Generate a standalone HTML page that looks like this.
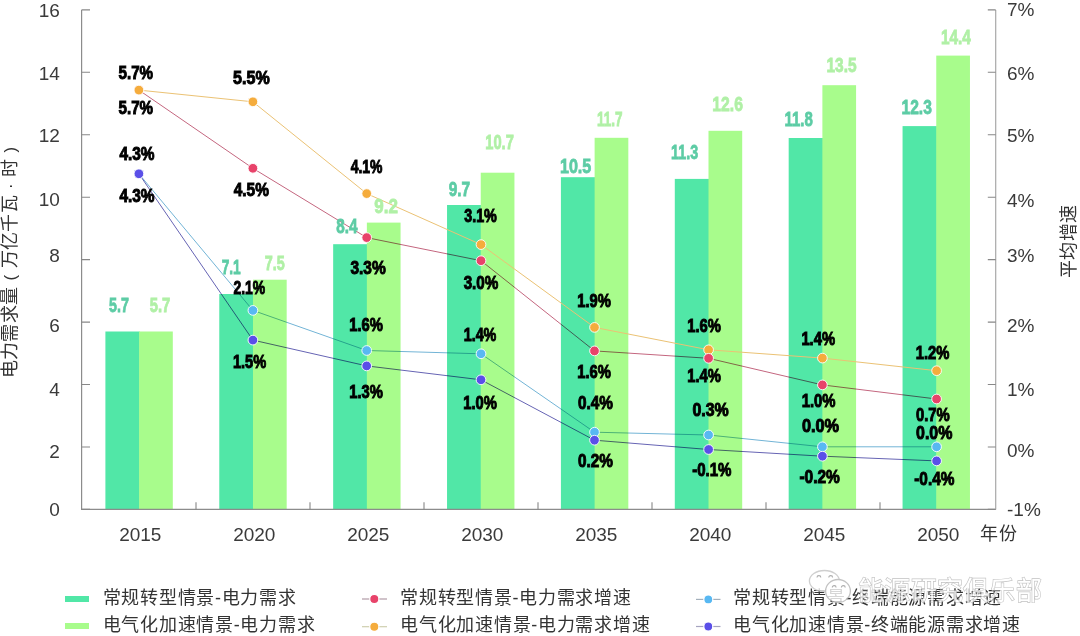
<!DOCTYPE html>
<html lang="zh-CN"><head><meta charset="utf-8">
<style>
html,body{margin:0;padding:0;background:#fff;}
body{width:1080px;height:636px;position:relative;overflow:hidden;font-family:"Liberation Sans",sans-serif;}
svg{position:absolute;left:0;top:0;}
.t{position:absolute;white-space:nowrap;color:#333;font-size:18px;line-height:19px;font-weight:300;letter-spacing:0.75px;}
</style></head><body>
<svg width="1080" height="636" viewBox="0 0 1080 636">
<rect x="105.40" y="331.5" width="34.30" height="177.9" fill="#51E7A7"/>
<rect x="139.10" y="331.5" width="33.70" height="177.9" fill="#A8FC8C"/>
<rect x="219.28" y="294.0" width="34.30" height="215.4" fill="#51E7A7"/>
<rect x="252.98" y="279.7" width="33.70" height="229.7" fill="#A8FC8C"/>
<rect x="333.16" y="244.2" width="34.30" height="265.2" fill="#51E7A7"/>
<rect x="366.86" y="222.6" width="33.70" height="286.8" fill="#A8FC8C"/>
<rect x="447.04" y="205.0" width="34.30" height="304.4" fill="#51E7A7"/>
<rect x="480.74" y="172.7" width="33.70" height="336.7" fill="#A8FC8C"/>
<rect x="560.92" y="177.2" width="34.30" height="332.2" fill="#51E7A7"/>
<rect x="594.62" y="137.8" width="33.70" height="371.6" fill="#A8FC8C"/>
<rect x="674.80" y="178.9" width="34.30" height="330.5" fill="#51E7A7"/>
<rect x="708.50" y="130.8" width="33.70" height="378.6" fill="#A8FC8C"/>
<rect x="788.68" y="138.0" width="34.30" height="371.4" fill="#51E7A7"/>
<rect x="822.38" y="85.2" width="33.70" height="424.2" fill="#A8FC8C"/>
<rect x="902.56" y="126.1" width="34.30" height="383.3" fill="#51E7A7"/>
<rect x="936.26" y="55.6" width="33.70" height="453.8" fill="#A8FC8C"/>
<path d="M81.6 9.9V509.4H995.7" fill="none" stroke="#8c8c8c" stroke-width="1.2"/>
<path d="M995.7 9.9V509.4" fill="none" stroke="#a8a8a8" stroke-width="1.2"/>
<path d="M81.5 509.4H90 M987.8 509.4H995.7 M81.5 447.0H90 M987.8 447.0H995.7 M81.5 384.5H90 M987.8 384.5H995.7 M81.5 322.1H90 M987.8 322.1H995.7 M81.5 259.6H90 M987.8 259.6H995.7 M81.5 197.2H90 M987.8 197.2H995.7 M81.5 134.8H90 M987.8 134.8H995.7 M81.5 72.3H90 M987.8 72.3H995.7 M81.5 9.9H90 M987.8 9.9H995.7 M196.0 502.3V509.4 M310.0 502.3V509.4 M424.0 502.3V509.4 M538.0 502.3V509.4 M652.0 502.3V509.4 M766.0 502.3V509.4 M880.0 502.3V509.4" fill="none" stroke="#888" stroke-width="1.1"/>
<g style="mix-blend-mode:multiply">
<polyline points="138.9,90.1 252.9,168.3 366.7,237.6 481.0,260.7 594.5,350.9 708.6,358.3 822.4,384.9 936.6,399.0" fill="none" stroke="#C4667F" stroke-width="1"/>
<polyline points="138.9,173.8 252.9,310.4 366.7,350.5 481.0,353.8 594.5,432.2 708.6,435.0 822.4,446.8 936.6,446.8" fill="none" stroke="#72B4D6" stroke-width="1"/>
<polyline points="138.9,173.8 252.9,340.1 366.7,365.9 481.0,379.8 594.5,440.2 708.6,449.5 822.4,456.2 936.6,460.9" fill="none" stroke="#6664B4" stroke-width="1"/>
</g>
<polyline points="138.9,90.1 252.9,101.8 366.7,193.6 481.0,244.6 594.5,327.4 708.6,349.8 822.4,358.1 936.6,370.7" fill="none" stroke="#EBC274" stroke-width="1"/>
<circle cx="138.9" cy="90.1" r="4.85" fill="#E8436A" stroke="#fff" stroke-width="0.9"/>
<circle cx="138.9" cy="90.1" r="4.85" fill="#F5AC3C" stroke="#fff" stroke-width="0.9"/>
<circle cx="252.9" cy="101.8" r="4.85" fill="#F5AC3C" stroke="#fff" stroke-width="0.9"/>
<circle cx="366.7" cy="193.6" r="4.85" fill="#F5AC3C" stroke="#fff" stroke-width="0.9"/>
<circle cx="481.0" cy="244.6" r="4.85" fill="#F5AC3C" stroke="#fff" stroke-width="0.9"/>
<circle cx="594.5" cy="327.4" r="4.85" fill="#F5AC3C" stroke="#fff" stroke-width="0.9"/>
<circle cx="708.6" cy="349.8" r="4.85" fill="#F5AC3C" stroke="#fff" stroke-width="0.9"/>
<circle cx="822.4" cy="358.1" r="4.85" fill="#F5AC3C" stroke="#fff" stroke-width="0.9"/>
<circle cx="936.6" cy="370.7" r="4.85" fill="#F5AC3C" stroke="#fff" stroke-width="0.9"/>
<circle cx="252.9" cy="168.3" r="4.85" fill="#E8436A" stroke="#fff" stroke-width="0.9"/>
<circle cx="366.7" cy="237.6" r="4.85" fill="#E8436A" stroke="#fff" stroke-width="0.9"/>
<circle cx="481.0" cy="260.7" r="4.85" fill="#E8436A" stroke="#fff" stroke-width="0.9"/>
<circle cx="594.5" cy="350.9" r="4.85" fill="#E8436A" stroke="#fff" stroke-width="0.9"/>
<circle cx="708.6" cy="358.3" r="4.85" fill="#E8436A" stroke="#fff" stroke-width="0.9"/>
<circle cx="822.4" cy="384.9" r="4.85" fill="#E8436A" stroke="#fff" stroke-width="0.9"/>
<circle cx="936.6" cy="399.0" r="4.85" fill="#E8436A" stroke="#fff" stroke-width="0.9"/>
<circle cx="138.9" cy="173.8" r="4.85" fill="#58B8F2" stroke="#fff" stroke-width="0.9"/>
<circle cx="252.9" cy="310.4" r="4.85" fill="#58B8F2" stroke="#fff" stroke-width="0.9"/>
<circle cx="366.7" cy="350.5" r="4.85" fill="#58B8F2" stroke="#fff" stroke-width="0.9"/>
<circle cx="481.0" cy="353.8" r="4.85" fill="#58B8F2" stroke="#fff" stroke-width="0.9"/>
<circle cx="594.5" cy="432.2" r="4.85" fill="#58B8F2" stroke="#fff" stroke-width="0.9"/>
<circle cx="708.6" cy="435.0" r="4.85" fill="#58B8F2" stroke="#fff" stroke-width="0.9"/>
<circle cx="822.4" cy="446.8" r="4.85" fill="#58B8F2" stroke="#fff" stroke-width="0.9"/>
<circle cx="936.6" cy="446.8" r="4.85" fill="#58B8F2" stroke="#fff" stroke-width="0.9"/>
<circle cx="138.9" cy="173.8" r="4.85" fill="#5A4FE8" stroke="#fff" stroke-width="0.9"/>
<circle cx="252.9" cy="340.1" r="4.85" fill="#5A4FE8" stroke="#fff" stroke-width="0.9"/>
<circle cx="366.7" cy="365.9" r="4.85" fill="#5A4FE8" stroke="#fff" stroke-width="0.9"/>
<circle cx="481.0" cy="379.8" r="4.85" fill="#5A4FE8" stroke="#fff" stroke-width="0.9"/>
<circle cx="594.5" cy="440.2" r="4.85" fill="#5A4FE8" stroke="#fff" stroke-width="0.9"/>
<circle cx="708.6" cy="449.5" r="4.85" fill="#5A4FE8" stroke="#fff" stroke-width="0.9"/>
<circle cx="822.4" cy="456.2" r="4.85" fill="#5A4FE8" stroke="#fff" stroke-width="0.9"/>
<circle cx="936.6" cy="460.9" r="4.85" fill="#5A4FE8" stroke="#fff" stroke-width="0.9"/>
<text transform="translate(135.8 79.0) scale(0.805 1)" text-anchor="middle" font-family="Liberation Sans" font-weight="bold" font-size="18.8" fill="#000" stroke="#000" stroke-width="1.0">5.7%</text>
<text transform="translate(135.8 114.2) scale(0.805 1)" text-anchor="middle" font-family="Liberation Sans" font-weight="bold" font-size="18.8" fill="#000" stroke="#000" stroke-width="1.0">5.7%</text>
<text transform="translate(137.0 160.4) scale(0.82 1)" text-anchor="middle" font-family="Liberation Sans" font-weight="bold" font-size="18.8" fill="#000" stroke="#000" stroke-width="1.0">4.3%</text>
<text transform="translate(137.0 202.0) scale(0.82 1)" text-anchor="middle" font-family="Liberation Sans" font-weight="bold" font-size="18.8" fill="#000" stroke="#000" stroke-width="1.0">4.3%</text>
<text transform="translate(251.4 84.2) scale(0.854 1)" text-anchor="middle" font-family="Liberation Sans" font-weight="bold" font-size="18.8" fill="#000" stroke="#000" stroke-width="1.0">5.5%</text>
<text transform="translate(251.3 195.6) scale(0.82 1)" text-anchor="middle" font-family="Liberation Sans" font-weight="bold" font-size="18.8" fill="#000" stroke="#000" stroke-width="1.0">4.5%</text>
<text transform="translate(249.3 294.2) scale(0.739 1)" text-anchor="middle" font-family="Liberation Sans" font-weight="bold" font-size="18.8" fill="#000" stroke="#000" stroke-width="1.0">2.1%</text>
<text transform="translate(249.5 368.2) scale(0.776 1)" text-anchor="middle" font-family="Liberation Sans" font-weight="bold" font-size="18.8" fill="#000" stroke="#000" stroke-width="1.0">1.5%</text>
<text transform="translate(366.6 173.1) scale(0.741 1)" text-anchor="middle" font-family="Liberation Sans" font-weight="bold" font-size="18.8" fill="#000" stroke="#000" stroke-width="1.0">4.1%</text>
<text transform="translate(368.1 274.1) scale(0.825 1)" text-anchor="middle" font-family="Liberation Sans" font-weight="bold" font-size="18.8" fill="#000" stroke="#000" stroke-width="1.0">3.3%</text>
<text transform="translate(366.1 331.0) scale(0.785 1)" text-anchor="middle" font-family="Liberation Sans" font-weight="bold" font-size="18.8" fill="#000" stroke="#000" stroke-width="1.0">1.6%</text>
<text transform="translate(366.1 398.1) scale(0.785 1)" text-anchor="middle" font-family="Liberation Sans" font-weight="bold" font-size="18.8" fill="#000" stroke="#000" stroke-width="1.0">1.3%</text>
<text transform="translate(480.5 222.2) scale(0.762 1)" text-anchor="middle" font-family="Liberation Sans" font-weight="bold" font-size="18.8" fill="#000" stroke="#000" stroke-width="1.0">3.1%</text>
<text transform="translate(481.0 289.1) scale(0.81 1)" text-anchor="middle" font-family="Liberation Sans" font-weight="bold" font-size="18.8" fill="#000" stroke="#000" stroke-width="1.0">3.0%</text>
<text transform="translate(480.0 340.6) scale(0.761 1)" text-anchor="middle" font-family="Liberation Sans" font-weight="bold" font-size="18.8" fill="#000" stroke="#000" stroke-width="1.0">1.4%</text>
<text transform="translate(480.0 408.8) scale(0.785 1)" text-anchor="middle" font-family="Liberation Sans" font-weight="bold" font-size="18.8" fill="#000" stroke="#000" stroke-width="1.0">1.0%</text>
<text transform="translate(594.0 307.3) scale(0.785 1)" text-anchor="middle" font-family="Liberation Sans" font-weight="bold" font-size="18.8" fill="#000" stroke="#000" stroke-width="1.0">1.9%</text>
<text transform="translate(594.0 377.5) scale(0.785 1)" text-anchor="middle" font-family="Liberation Sans" font-weight="bold" font-size="18.8" fill="#000" stroke="#000" stroke-width="1.0">1.6%</text>
<text transform="translate(595.4 409.3) scale(0.815 1)" text-anchor="middle" font-family="Liberation Sans" font-weight="bold" font-size="18.8" fill="#000" stroke="#000" stroke-width="1.0">0.4%</text>
<text transform="translate(595.4 467.4) scale(0.815 1)" text-anchor="middle" font-family="Liberation Sans" font-weight="bold" font-size="18.8" fill="#000" stroke="#000" stroke-width="1.0">0.2%</text>
<text transform="translate(704.0 332.2) scale(0.785 1)" text-anchor="middle" font-family="Liberation Sans" font-weight="bold" font-size="18.8" fill="#000" stroke="#000" stroke-width="1.0">1.6%</text>
<text transform="translate(704.0 382.3) scale(0.785 1)" text-anchor="middle" font-family="Liberation Sans" font-weight="bold" font-size="18.8" fill="#000" stroke="#000" stroke-width="1.0">1.4%</text>
<text transform="translate(710.6 416.2) scale(0.848 1)" text-anchor="middle" font-family="Liberation Sans" font-weight="bold" font-size="18.8" fill="#000" stroke="#000" stroke-width="1.0">0.3%</text>
<text transform="translate(711.8 476.1) scale(0.801 1)" text-anchor="middle" font-family="Liberation Sans" font-weight="bold" font-size="18.8" fill="#000" stroke="#000" stroke-width="1.0">-0.1%</text>
<text transform="translate(818.2 345.2) scale(0.785 1)" text-anchor="middle" font-family="Liberation Sans" font-weight="bold" font-size="18.8" fill="#000" stroke="#000" stroke-width="1.0">1.4%</text>
<text transform="translate(818.6 406.5) scale(0.79 1)" text-anchor="middle" font-family="Liberation Sans" font-weight="bold" font-size="18.8" fill="#000" stroke="#000" stroke-width="1.0">1.0%</text>
<text transform="translate(820.5 432.2) scale(0.868 1)" text-anchor="middle" font-family="Liberation Sans" font-weight="bold" font-size="18.8" fill="#000" stroke="#000" stroke-width="1.0">0.0%</text>
<text transform="translate(819.6 483.4) scale(0.824 1)" text-anchor="middle" font-family="Liberation Sans" font-weight="bold" font-size="18.8" fill="#000" stroke="#000" stroke-width="1.0">-0.2%</text>
<text transform="translate(932.5 358.7) scale(0.785 1)" text-anchor="middle" font-family="Liberation Sans" font-weight="bold" font-size="18.8" fill="#000" stroke="#000" stroke-width="1.0">1.2%</text>
<text transform="translate(932.9 421.2) scale(0.79 1)" text-anchor="middle" font-family="Liberation Sans" font-weight="bold" font-size="18.8" fill="#000" stroke="#000" stroke-width="1.0">0.7%</text>
<text transform="translate(934.2 438.8) scale(0.849 1)" text-anchor="middle" font-family="Liberation Sans" font-weight="bold" font-size="18.8" fill="#000" stroke="#000" stroke-width="1.0">0.0%</text>
<text transform="translate(934.3 485.0) scale(0.818 1)" text-anchor="middle" font-family="Liberation Sans" font-weight="bold" font-size="18.8" fill="#000" stroke="#000" stroke-width="1.0">-0.4%</text>
<text transform="translate(119.0 311.8) scale(0.699 1)" text-anchor="middle" font-family="Liberation Sans" font-weight="bold" font-size="20.5" fill="#5DCCA5" stroke="#5DCCA5" stroke-width="0.8">5.7</text>
<text transform="translate(160.0 311.8) scale(0.722 1)" text-anchor="middle" font-family="Liberation Sans" font-weight="bold" font-size="20.5" fill="#B0F0A6" stroke="#B0F0A6" stroke-width="0.8">5.7</text>
<text transform="translate(231.2 273.9) scale(0.669 1)" text-anchor="middle" font-family="Liberation Sans" font-weight="bold" font-size="20.5" fill="#5DCCA5" stroke="#5DCCA5" stroke-width="0.8">7.1</text>
<text transform="translate(274.7 269.8) scale(0.7 1)" text-anchor="middle" font-family="Liberation Sans" font-weight="bold" font-size="20.5" fill="#B0F0A6" stroke="#B0F0A6" stroke-width="0.8">7.5</text>
<text transform="translate(346.9 233.3) scale(0.746 1)" text-anchor="middle" font-family="Liberation Sans" font-weight="bold" font-size="20.5" fill="#5DCCA5" stroke="#5DCCA5" stroke-width="0.8">8.4</text>
<text transform="translate(386.1 213.1) scale(0.829 1)" text-anchor="middle" font-family="Liberation Sans" font-weight="bold" font-size="20.5" fill="#B0F0A6" stroke="#B0F0A6" stroke-width="0.8">9.2</text>
<text transform="translate(459.4 195.9) scale(0.754 1)" text-anchor="middle" font-family="Liberation Sans" font-weight="bold" font-size="20.5" fill="#5DCCA5" stroke="#5DCCA5" stroke-width="0.8">9.7</text>
<text transform="translate(499.5 149.4) scale(0.717 1)" text-anchor="middle" font-family="Liberation Sans" font-weight="bold" font-size="20.5" fill="#B0F0A6" stroke="#B0F0A6" stroke-width="0.8">10.7</text>
<text transform="translate(575.6 173.0) scale(0.787 1)" text-anchor="middle" font-family="Liberation Sans" font-weight="bold" font-size="20.5" fill="#5DCCA5" stroke="#5DCCA5" stroke-width="0.8">10.5</text>
<text transform="translate(609.7 125.8) scale(0.659 1)" text-anchor="middle" font-family="Liberation Sans" font-weight="bold" font-size="20.5" fill="#B0F0A6" stroke="#B0F0A6" stroke-width="0.8">11.7</text>
<text transform="translate(684.6 158.8) scale(0.698 1)" text-anchor="middle" font-family="Liberation Sans" font-weight="bold" font-size="20.5" fill="#5DCCA5" stroke="#5DCCA5" stroke-width="0.8">11.3</text>
<text transform="translate(727.6 110.6) scale(0.766 1)" text-anchor="middle" font-family="Liberation Sans" font-weight="bold" font-size="20.5" fill="#B0F0A6" stroke="#B0F0A6" stroke-width="0.8">12.6</text>
<text transform="translate(798.6 125.7) scale(0.732 1)" text-anchor="middle" font-family="Liberation Sans" font-weight="bold" font-size="20.5" fill="#5DCCA5" stroke="#5DCCA5" stroke-width="0.8">11.8</text>
<text transform="translate(841.5 72.2) scale(0.755 1)" text-anchor="middle" font-family="Liberation Sans" font-weight="bold" font-size="20.5" fill="#B0F0A6" stroke="#B0F0A6" stroke-width="0.8">13.5</text>
<text transform="translate(916.7 113.8) scale(0.76 1)" text-anchor="middle" font-family="Liberation Sans" font-weight="bold" font-size="20.5" fill="#5DCCA5" stroke="#5DCCA5" stroke-width="0.8">12.3</text>
<text transform="translate(955.9 43.9) scale(0.75 1)" text-anchor="middle" font-family="Liberation Sans" font-weight="bold" font-size="20.5" fill="#B0F0A6" stroke="#B0F0A6" stroke-width="0.8">14.4</text>
<text x="59.8" y="16.7" text-anchor="end" font-family="Liberation Sans" font-size="19" fill="#3a3a3a">16</text>
<text x="59.8" y="80.2" text-anchor="end" font-family="Liberation Sans" font-size="19" fill="#3a3a3a">14</text>
<text x="59.8" y="142.0" text-anchor="end" font-family="Liberation Sans" font-size="19" fill="#3a3a3a">12</text>
<text x="59.8" y="205.8" text-anchor="end" font-family="Liberation Sans" font-size="19" fill="#3a3a3a">10</text>
<text x="59.8" y="262.0" text-anchor="end" font-family="Liberation Sans" font-size="19" fill="#3a3a3a">8</text>
<text x="59.8" y="332.1" text-anchor="end" font-family="Liberation Sans" font-size="19" fill="#3a3a3a">6</text>
<text x="59.8" y="395.5" text-anchor="end" font-family="Liberation Sans" font-size="19" fill="#3a3a3a">4</text>
<text x="59.8" y="458.3" text-anchor="end" font-family="Liberation Sans" font-size="19" fill="#3a3a3a">2</text>
<text x="59.8" y="516.2" text-anchor="end" font-family="Liberation Sans" font-size="19" fill="#3a3a3a">0</text>
<text x="1007" y="16.2" font-family="Liberation Sans" font-size="19" fill="#3a3a3a">7%</text>
<text x="1007" y="79.9" font-family="Liberation Sans" font-size="19" fill="#3a3a3a">6%</text>
<text x="1007" y="142.1" font-family="Liberation Sans" font-size="19" fill="#3a3a3a">5%</text>
<text x="1007" y="206.7" font-family="Liberation Sans" font-size="19" fill="#3a3a3a">4%</text>
<text x="1007" y="262.1" font-family="Liberation Sans" font-size="19" fill="#3a3a3a">3%</text>
<text x="1007" y="332.3" font-family="Liberation Sans" font-size="19" fill="#3a3a3a">2%</text>
<text x="1007" y="395.8" font-family="Liberation Sans" font-size="19" fill="#3a3a3a">1%</text>
<text x="1007" y="457.4" font-family="Liberation Sans" font-size="19" fill="#3a3a3a">0%</text>
<text x="1007" y="516.1" font-family="Liberation Sans" font-size="19" fill="#3a3a3a">-1%</text>
<text x="140.3" y="541.1" text-anchor="middle" font-family="Liberation Sans" font-size="19" fill="#3a3a3a">2015</text>
<text x="254.3" y="541.1" text-anchor="middle" font-family="Liberation Sans" font-size="19" fill="#3a3a3a">2020</text>
<text x="368.3" y="541.1" text-anchor="middle" font-family="Liberation Sans" font-size="19" fill="#3a3a3a">2025</text>
<text x="482.3" y="541.1" text-anchor="middle" font-family="Liberation Sans" font-size="19" fill="#3a3a3a">2030</text>
<text x="596.3" y="541.1" text-anchor="middle" font-family="Liberation Sans" font-size="19" fill="#3a3a3a">2035</text>
<text x="710.3" y="541.1" text-anchor="middle" font-family="Liberation Sans" font-size="19" fill="#3a3a3a">2040</text>
<text x="824.3" y="541.1" text-anchor="middle" font-family="Liberation Sans" font-size="19" fill="#3a3a3a">2045</text>
<text x="938.3" y="541.1" text-anchor="middle" font-family="Liberation Sans" font-size="19" fill="#3a3a3a">2050</text>
</svg>
<div class="t" id="yt" style="left:-108.55px;top:249.90px;width:237.9px;height:18.3px;transform:rotate(-90deg);font-size:18px;line-height:18.3px;display:flex;"><span style="display:block;width:18.3px;text-align:center;flex:none">电</span><span style="display:block;width:18.3px;text-align:center;flex:none">力</span><span style="display:block;width:18.3px;text-align:center;flex:none">需</span><span style="display:block;width:18.3px;text-align:center;flex:none">求</span><span style="display:block;width:18.3px;text-align:center;flex:none">量</span><span style="display:block;width:18.3px;text-align:center;flex:none"><span style="font-size:16.5px;position:relative;top:-0.5px">(</span></span><span style="display:block;width:18.3px;text-align:center;flex:none">万</span><span style="display:block;width:18.3px;text-align:center;flex:none">亿</span><span style="display:block;width:18.3px;text-align:center;flex:none">千</span><span style="display:block;width:18.3px;text-align:center;flex:none">瓦</span><span style="display:block;width:18.3px;text-align:center;flex:none">·</span><span style="display:block;width:18.3px;text-align:center;flex:none">时</span><span style="display:block;width:18.3px;text-align:center;flex:none"><span style="font-size:16.5px;position:relative;top:-0.5px">)</span></span></div>
<div class="t" id="rt" style="left:1032.10px;top:231.85px;width:74px;height:18.5px;transform:rotate(-90deg);font-size:18px;line-height:18.5px;display:flex;"><span style="display:block;width:18.5px;text-align:center;flex:none">平</span><span style="display:block;width:18.5px;text-align:center;flex:none">均</span><span style="display:block;width:18.5px;text-align:center;flex:none">增</span><span style="display:block;width:18.5px;text-align:center;flex:none">速</span></div>
<div class="t" style="left:980px;top:525px;font-size:18px;">年份</div>
<div style="position:absolute;left:65px;top:596px;width:24px;height:6px;background:#51E7A7"></div>
<div style="position:absolute;left:65px;top:623px;width:24px;height:6px;background:#A8FC8C"></div>
<div class="t" style="left:102.5px;top:589px;">常规转型情景-电力需求</div>
<div class="t" style="left:102.5px;top:616px;">电气化加速情景-电力需求</div>
<svg width="1080" height="636" viewBox="0 0 1080 636" style="pointer-events:none">
<path d="M362 599H387" stroke="#b09aa6" stroke-width="1.2"/>
<path d="M362 626.7H387" stroke="#cfcfae" stroke-width="1.2"/>
<circle cx="374.3" cy="599" r="4.6" fill="#E8436A" stroke="#fff" stroke-width="1.2"/>
<circle cx="374.3" cy="626.7" r="4.6" fill="#F5AC3C" stroke="#fff" stroke-width="1.2"/>
<path d="M696 599.4H720.5" stroke="#a4b0bc" stroke-width="1.2"/>
<path d="M696 626.5H720.5" stroke="#a6a4c0" stroke-width="1.2"/>
<circle cx="708.3" cy="599.4" r="4.5" fill="#58B8F2" stroke="#fff" stroke-width="1.2"/>
<circle cx="708.3" cy="626.5" r="4.5" fill="#5A4FE8" stroke="#fff" stroke-width="1.2"/>
</svg>
<div class="t" style="left:400px;top:589px;">常规转型情景-电力需求增速</div>
<div class="t" style="left:400px;top:616px;">电气化加速情景-电力需求增速</div>
<div class="t" style="left:733px;top:589px;">常规转型情景-终端能源需求增速</div>
<div class="t" style="left:733px;top:616px;">电气化加速情景-终端能源需求增速</div>
<svg width="1080" height="636" viewBox="0 0 1080 636" style="position:absolute;left:0;top:0">
<g opacity="0.8">
<ellipse cx="824.4" cy="581" rx="15" ry="10.5" fill="#fff" stroke="#c4c4c4" stroke-width="1.3"/>
<path d="M817 577.5a1.9 1.9 0 0 1 3.8 0M828.8 577.5a1.9 1.9 0 0 1 3.8 0" fill="none" stroke="#999" stroke-width="1.1"/>
<ellipse cx="838" cy="591" rx="12.4" ry="11.5" fill="#fff" stroke="#b4b4b4" stroke-width="1.3"/>
<path d="M832.3 587.5a1.9 1.9 0 0 1 3.8 0M841.4 587.5a1.9 1.9 0 0 1 3.8 0" fill="none" stroke="#999" stroke-width="1.1"/>
<text x="858" y="600" font-size="26" fill="#fff" stroke="#b4b4b4" stroke-width="1.3" paint-order="stroke" style="letter-spacing:0.3px">能源研究俱乐部</text>
</g>
</svg>
</body></html>
